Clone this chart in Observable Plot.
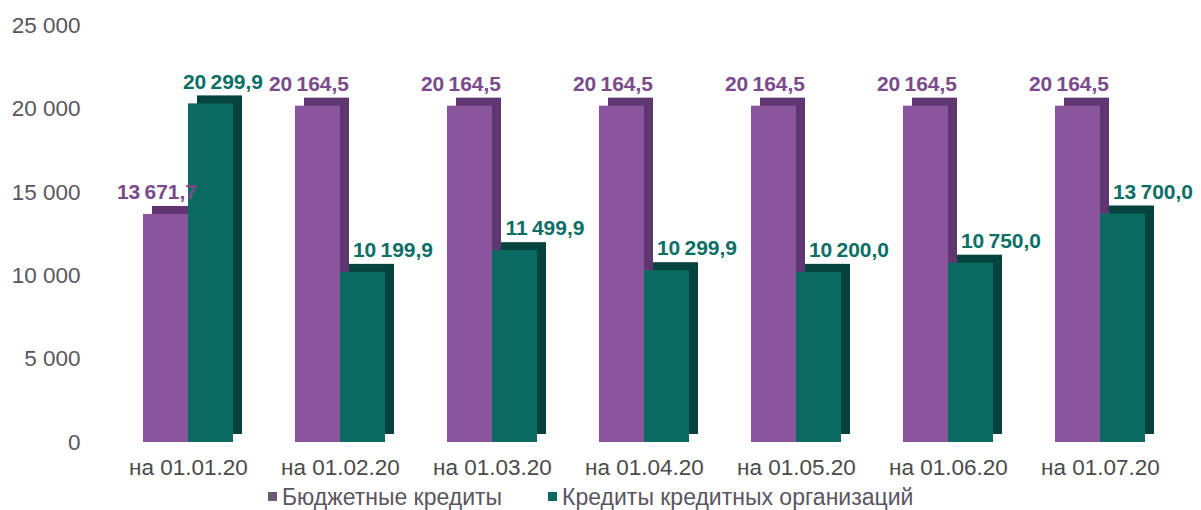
<!DOCTYPE html>
<html><head><meta charset="utf-8">
<script src="https://cdn.jsdelivr.net/npm/d3@7"></script>
<script src="https://cdn.jsdelivr.net/npm/@observablehq/plot@0.6"></script>
<style>
body{margin:0;background:#fff;font-family:"Liberation Sans",Arial,sans-serif;}
#legend{display:flex;gap:46px;margin-left:268px;margin-top:0px;font-size:23px;color:#5a5560;height:25px;align-items:center}
#legend span.sw{display:inline-block;width:9px;height:9px;margin-right:5px;vertical-align:middle;position:relative;top:-2px}
</style></head>
<body>
<div id="chart"></div>
<div id="legend"></div>
<script>
const dates = ["на 01.01.20","на 01.02.20","на 01.03.20","на 01.04.20","на 01.05.20","на 01.06.20","на 01.07.20"];
const series = ["Бюджетные кредиты","Кредиты кредитных организаций"];
const budget = [13671.7,20164.5,20164.5,20164.5,20164.5,20164.5,20164.5];
const creditOrg = [20299.9,10199.9,11499.9,10299.9,10200.0,10750.0,13700.0];
const yTicks = [0,5000,10000,15000,20000,25000];
const colors = ["#8a559c","#0b6a62"];
const darkColors = ["#5f3672","#07433e"];
const labelColors = ["#7a4a8c","#0b6f66"];

const data = [];
dates.forEach((d,i)=>{
  data.push({date:d, series:series[0], value:budget[i]});
  data.push({date:d, series:series[1], value:creditOrg[i]});
});
const loc = d3.formatLocale({decimal:",", thousands:"\u2009", grouping:[3], currency:["",""]});
const fmtVal = loc.format(",.1f");
const fmtTick = d3.formatLocale({decimal:",", thousands:" ", grouping:[3], currency:["",""]}).format(",d");

const tealFirst = data.filter(d=>d.series===series[1] && d.date===dates[0]);
const tealRest = data.filter(d=>d.series===series[1] && d.date!==dates[0]);

const chart = Plot.plot({
  width:1201, height:485,
  marginTop:25, marginBottom:43, marginLeft:143, marginRight:56,
  style:{fontFamily:"Liberation Sans, Arial, sans-serif", background:"#fff"},
  fx:{domain:dates, padding:0.41, label:null, axis:null},
  x:{domain:series, padding:0, axis:null},
  y:{domain:[0,25000], label:null, axis:null},
  color:{domain:series, range:colors},
  marks:[
    Plot.axisY({ticks:yTicks, tickFormat:fmtTick, tickSize:0, tickPadding:63, fontSize:22.5, fill:"#5a5560", label:null}),
    Plot.axisFx({domain:dates, anchor:"bottom", tickSize:0, tickPadding:17, fontSize:22.5, fill:"#4a4a4a", label:null}),
    Plot.barY(data,{fx:"date", x:"series", y:"value", fill:d=>darkColors[series.indexOf(d.series)], dx:9, dy:-8}),
    Plot.barY(data,{fx:"date", x:"series", y:"value", fill:"series"}),
    Plot.text(data.filter(d=>d.series===series[0]),{fx:"date", x:"series", y:"value", text:d=>fmtVal(d.value), dy:-22, dx:-9, fill:labelColors[0], fontSize:21, fontWeight:"bold"}),
    Plot.text(tealFirst,{fx:"date", x:"series", y:"value", text:d=>fmtVal(d.value), dy:-22, dx:12, fill:labelColors[1], fontSize:21, fontWeight:"bold"}),
    Plot.text(tealRest,{fx:"date", x:"series", y:"value", text:d=>fmtVal(d.value), dy:-22, dx:30, fill:labelColors[1], fontSize:21, fontWeight:"bold"})
  ]
});
document.getElementById("chart").appendChild(chart);
const lg = document.getElementById("legend");
series.forEach((s,i)=>{
  const el=document.createElement("div");
  el.innerHTML=`<span class="sw" style="background:${i===0?'#6a5a72':colors[1]}"></span>${s}`;
  lg.appendChild(el);
});
</script>
</body></html>
